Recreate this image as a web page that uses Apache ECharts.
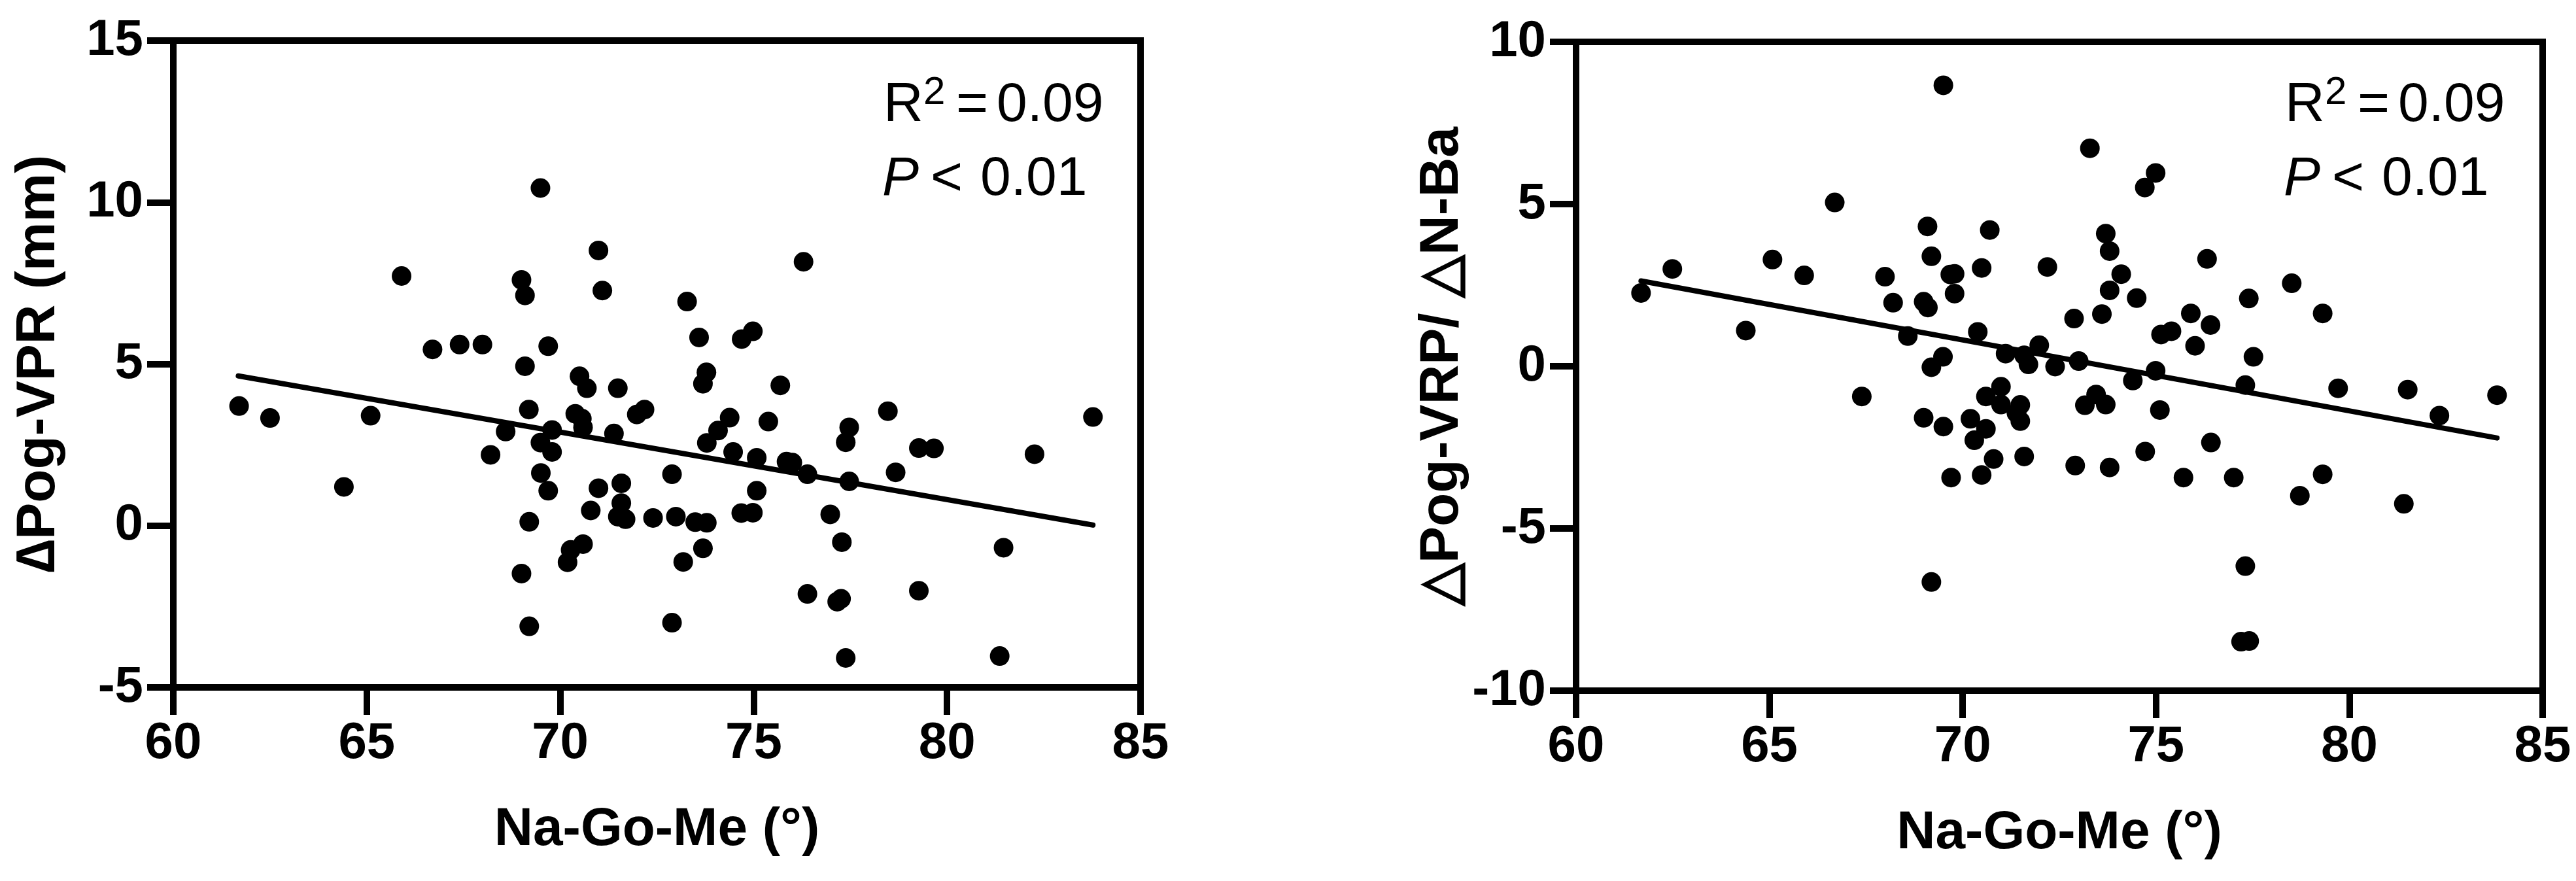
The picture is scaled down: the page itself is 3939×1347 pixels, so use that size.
<!DOCTYPE html>
<html>
<head>
<meta charset="utf-8">
<title>Na-Go-Me scatter</title>
<script src="https://cdn.jsdelivr.net/npm/echarts@6/dist/echarts.min.js"></script>
<style>
    html, body { margin: 0; padding: 0; background: #fff; }
    #main { width: 3939px; height: 1347px; }
</style>
</head>
<body>
<div id="main"></div>
<script>
// left panel: ΔPog-VPR (mm) vs Na-Go-Me
const leftX = [61.70, 62.50, 64.41, 65.10, 65.90, 66.70, 67.40, 67.99, 68.20, 68.59,
    69.00, 69.09, 69.09, 69.19, 69.20, 69.00, 69.20, 69.49, 69.69, 69.49,
    69.79, 69.79, 69.50, 69.69, 70.39, 70.56, 70.59, 70.50, 70.69, 70.19,
    70.27, 70.59, 70.79, 70.99, 70.99, 71.09, 71.39, 71.49, 71.58, 71.58,
    71.49, 71.69, 71.98, 72.18, 72.40, 72.89, 72.99, 72.89, 73.18, 73.28,
    73.59, 73.49, 73.79, 73.69, 73.78, 73.69, 73.79, 74.08, 74.38, 74.47,
    74.69, 74.98, 75.08, 74.68, 74.98, 75.08, 75.38, 75.69, 75.85, 76.00,
    76.29, 76.39, 76.39, 76.98, 77.16, 77.26, 77.28, 77.38, 77.47, 77.47,
    77.38, 78.47, 78.67, 79.27, 79.66, 79.27, 81.36, 81.46, 82.26, 83.77];
const leftY = [3.70, 3.33, 1.20, 3.40, 7.72, 5.45, 5.60, 5.60, 2.19, 2.91,
    7.60, 7.12, 4.93, 3.59, 0.12, -1.48, -3.11, 10.44, 5.55, 2.57,
    2.96, 2.28, 1.63, 1.08, 3.46, 3.31, 3.04, 4.62, 4.25, -1.13,
    -0.75, -0.57, 0.47, 1.16, 8.51, 7.27, 2.85, 4.25, 1.31, 0.70,
    0.28, 0.20, 3.44, 3.59, 0.24, 1.59, 0.28, -3.00, -1.12, 6.93,
    5.82, 0.11, 0.09, -0.70, 4.74, 4.39, 2.56, 2.94, 3.34, 2.28,
    5.77, 6.01, 2.10, 0.39, 0.40, 1.08, 3.22, 4.34, 1.98, 1.95,
    8.16, 1.59, -2.11, 0.35, -2.35, -2.26, -0.51, 2.58, 3.04, 1.37,
    -4.09, 3.54, 1.65, 2.40, 2.39, -2.01, -4.03, -0.68, 2.21, 3.36];
const leftFitX = [61.68, 83.77];
const leftFitY = [4.63, 0.02];

// right panel: △Pog-VRP/△N-Ba vs Na-Go-Me
const rightX = [61.68, 62.49, 64.39, 65.08, 65.90, 66.69, 67.39, 67.99, 68.20, 68.58,
    68.99, 69.10, 69.09, 69.19, 68.99, 69.19, 69.19, 69.49, 69.50, 69.50,
    69.68, 69.79, 69.79, 69.70, 70.39, 70.49, 70.20, 70.30, 70.49, 70.60,
    70.60, 70.70, 70.80, 70.99, 70.99, 71.11, 71.39, 71.49, 71.49, 71.59,
    71.59, 71.70, 71.98, 72.19, 72.39, 72.88, 72.91, 73.00, 73.16, 73.29,
    73.45, 73.60, 73.70, 73.70, 73.80, 73.80, 73.80, 74.10, 74.40, 74.50,
    74.71, 74.72, 74.99, 74.99, 75.10, 75.13, 75.40, 75.71, 75.90, 76.01,
    76.32, 76.41, 76.42, 77.01, 77.20, 77.31, 77.31, 77.40, 77.41, 77.52,
    78.51, 78.72, 79.31, 79.31, 79.71, 81.41, 81.51, 82.33, 83.82];
const rightY = [2.26, 3.00, 1.10, 3.29, 2.80, 5.05, -0.93, 2.76, 1.96, 0.93,
    1.99, 1.81, 4.31, 3.39, -1.59, -0.03, -6.65, 0.29, -1.86, 8.66,
    2.83, 2.85, 2.24, -3.43, 1.06, 3.03, -1.62, -2.28, -3.35, -0.93,
    -1.93, 4.20, -2.86, -0.63, -1.18, 0.39, -1.44, -1.19, -1.69, 0.34,
    -2.78, 0.06, 0.65, 3.06, -0.01, 1.47, -3.06, 0.16, -1.20, 6.72,
    -0.87, 1.61, -1.18, 4.09, 3.55, 2.34, -3.12, 2.84, -0.44, 2.10,
    5.51, -2.63, 5.96, -0.14, -1.35, 0.98, 1.08, -3.43, 1.63, 0.63,
    3.31, 1.27, -2.35, -3.43, -8.49, -0.58, -6.16, 2.09, -8.47, 0.29,
    2.56, -3.99, 1.63, -3.33, -0.68, -4.24, -0.72, -1.52, -0.89];
const rightFitX = [61.68, 83.82];
const rightFitY = [2.63, -2.21];

// axis ranges [min, max, interval]
const xRange = [60, 85, 5];
const leftYRange = [-5, 15, 5];
const rightYRange = [-10, 10, 5];

const xTitle = 'Na-Go-Me (°)';
const leftYTitle = '\u2206Pog-VPR (mm)';
const rightYTitle = '\u25B3Pog-VRP/ \u25B3N-Ba';
const statR2 = '0.09';
const statP = '0.01';

const FONT = "'Liberation Sans', Arial, Helvetica, sans-serif";

function pairs(xs, ys) {
    return xs.map((x, i) => [x, ys[i]]);
}

function makeX(gridIndex) {
    return {
        type: 'value',
        gridIndex: gridIndex,
        min: xRange[0],
        max: xRange[1],
        interval: xRange[2],
        name: xTitle,
        nameLocation: 'middle',
        nameGap: 177,
        nameTextStyle: { fontFamily: FONT, fontSize: 82, fontWeight: 'bold', color: '#000' },
        axisLine: { onZero: false, lineStyle: { color: '#000', width: 10 } },
        axisTick: { length: 42, lineStyle: { color: '#000', width: 10 } },
        axisLabel: { margin: 47, fontFamily: FONT, fontSize: 78, fontWeight: 'bold', color: '#000' },
        splitLine: { show: false }
    };
}

function makeY(gridIndex, range, title, gap) {
    return {
        type: 'value',
        gridIndex: gridIndex,
        min: range[0],
        max: range[1],
        interval: range[2],
        name: title,
        nameLocation: 'middle',
        nameGap: gap,
        nameTextStyle: { fontFamily: FONT, fontSize: 84, fontWeight: 'bold', color: '#000' },
        axisLine: { onZero: false, lineStyle: { color: '#000', width: 10 } },
        axisTick: { length: 40, lineStyle: { color: '#000', width: 10 } },
        axisLabel: { margin: 46, fontFamily: FONT, fontSize: 78, fontWeight: 'bold', color: '#000' },
        splitLine: { show: false }
    };
}

function txt(str, x, y, size, italic) {
    return {
        type: 'text', x: x, y: y, z: 10,
        style: {
            text: str,
            fontFamily: FONT,
            fontSize: size,
            fontStyle: italic ? 'italic' : 'normal',
            fill: '#000',
            align: 'left',
            verticalAlign: 'middle'
        }
    };
}

// R² and P in the top right corner; x0 = left edge of the "R"
function statText(x0) {
    return [
        txt('R', x0, 162, 84),
        txt('2', x0 + 61, 142, 60),
        txt('=', x0 + 111, 162, 84),
        txt(statR2, x0 + 173, 162, 84),
        txt('P', x0 - 2, 275, 84, true),
        txt('<', x0 + 72, 275, 84),
        txt(statP, x0 + 148, 275, 84)
    ];
}

const chart = echarts.init(document.getElementById('main'), null, { renderer: 'canvas' });

const option = {
    backgroundColor: '#fff',
    animation: false,
    grid: [
        { left: 265, top: 62, width: 1479, height: 989, show: true, borderColor: '#000', borderWidth: 10 },
        { left: 2410, top: 64, width: 1478, height: 992, show: true, borderColor: '#000', borderWidth: 10 }
    ],
    xAxis: [makeX(0), makeX(1)],
    yAxis: [
        makeY(0, leftYRange, leftYTitle, 163),
        makeY(1, rightYRange, rightYTitle, 152)
    ],
    series: [
        {
            type: 'scatter', xAxisIndex: 0, yAxisIndex: 0,
            symbol: 'circle', symbolSize: 30,
            itemStyle: { color: '#000', opacity: 1 },
            data: pairs(leftX, leftY)
        },
        {
            type: 'line', xAxisIndex: 0, yAxisIndex: 0,
            showSymbol: false, symbol: 'none',
            lineStyle: { color: '#000', width: 8, cap: 'round' },
            data: pairs(leftFitX, leftFitY)
        },
        {
            type: 'scatter', xAxisIndex: 1, yAxisIndex: 1,
            symbol: 'circle', symbolSize: 30,
            itemStyle: { color: '#000', opacity: 1 },
            data: pairs(rightX, rightY)
        },
        {
            type: 'line', xAxisIndex: 1, yAxisIndex: 1,
            showSymbol: false, symbol: 'none',
            lineStyle: { color: '#000', width: 8, cap: 'round' },
            data: pairs(rightFitX, rightFitY)
        }
    ],
    graphic: statText(1351).concat(statText(3494))
};

chart.setOption(option);
</script>
</body>
</html>
